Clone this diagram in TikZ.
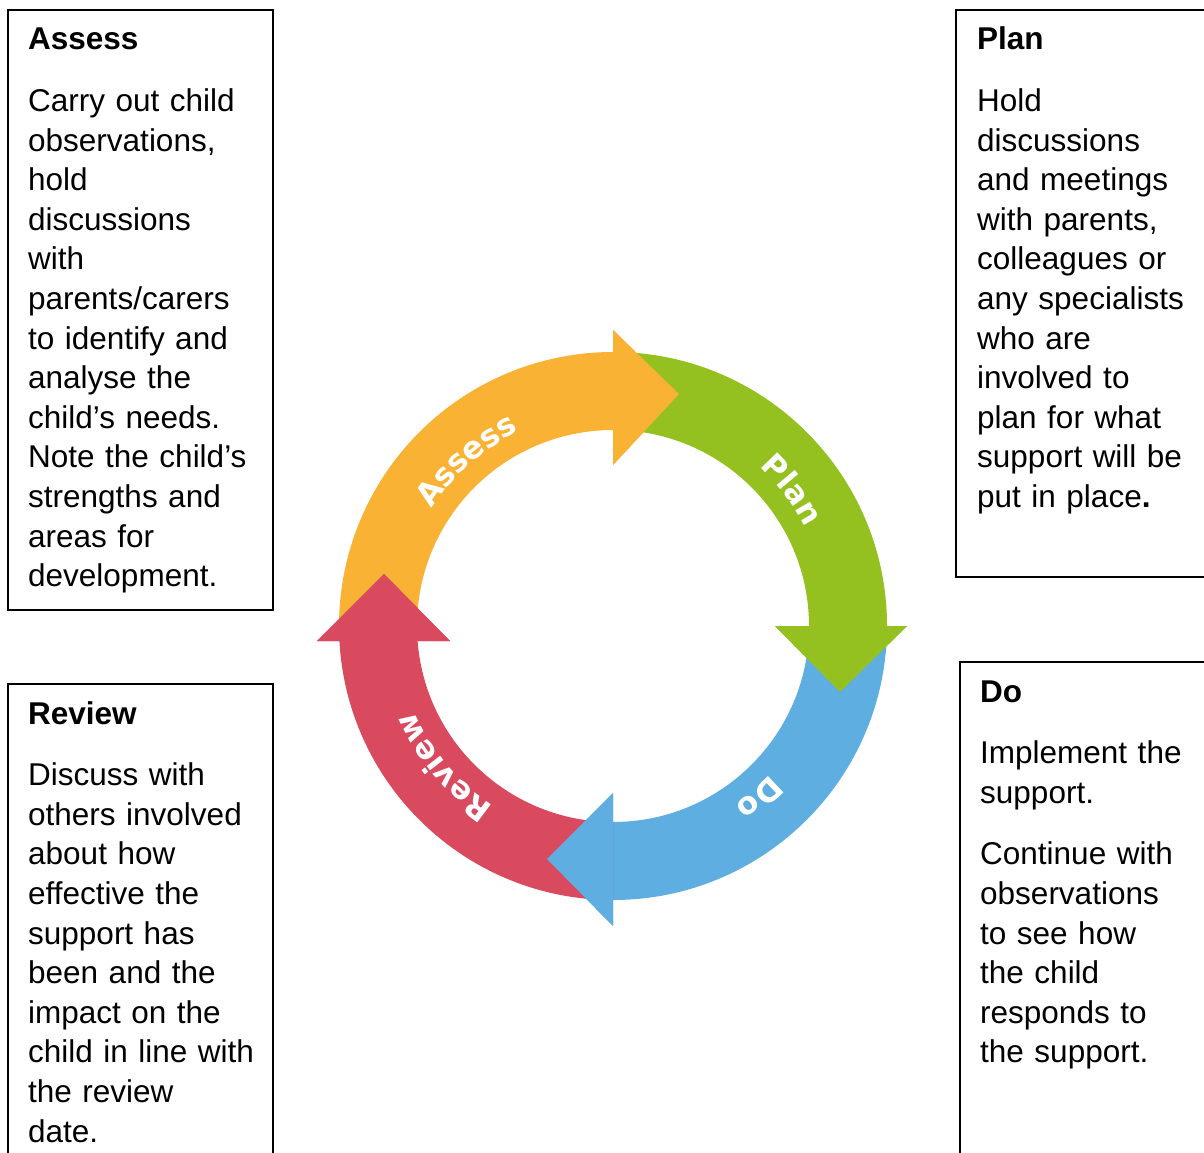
\documentclass[tikz,border=0pt]{standalone}
\usepackage{fontspec}
\setmainfont{Liberation Sans}
\newfontfamily\labelfamily{DejaVu Sans}
\usetikzlibrary{decorations.text}

\definecolor{assessorange}{RGB}{249,178,52}
\definecolor{plangreen}{RGB}{148,193,31}
\definecolor{doblue}{RGB}{94,174,225}
\definecolor{reviewred}{RGB}{217,74,95}

\newcommand\boxfont{\fontsize{31.5}{39.6}\selectfont}
\newcommand\arcfont{\labelfamily\bfseries\fontsize{31}{37}\selectfont}

\begin{document}
\begin{tikzpicture}[x=1pt,y=1pt,
  frame/.style={draw=black, line width=2pt},
  boxtext/.style={anchor=base west, inner sep=0pt, text width=250pt, align=left, font=\boxfont},
  arclabel/.style={decorate, decoration={text along path, text align=center,
      text color=white, text={|\arcfont|#1}}}
]
\useasboundingbox (0,0) rectangle (1204,-1153);
\clip (0,0) rectangle (1204,-1153);
\fill[white] (0,0) rectangle (1204,-1153);

% text boxes (cut off by the page edge at the right and bottom)
\draw[frame] (8,-10) rectangle (273,-610);
\draw[frame] (8,-684) rectangle (273,-1180);
\draw[frame] (956,-10) rectangle (1230,-577);
\draw[frame] (960,-662) rectangle (1230,-1180);

\node[boxtext] (assessText) at (28,-50) {\textbf{Assess}\\[22pt]Carry out child\\observations,\\hold\\discussions\\with\\parents/carers\\to identify and\\analyse the\\child’s needs.\\Note the child’s\\strengths and\\areas for\\development.};

\node[boxtext] (planText) at (977,-50) {\textbf{Plan}\\[22pt]Hold\\discussions\\and meetings\\with parents,\\colleagues or\\any specialists\\who are\\involved to\\plan for what\\support will be\\put in place\textbf{.}};

\node[boxtext] (reviewText) at (28,-724) {\textbf{Review}\\[22pt]Discuss with\\others involved\\about how\\effective the\\support has\\been and the\\impact on the\\child in line with\\the review\\date.};

\node[boxtext] (doText) at (980,-702) {\textbf{Do}\\[22pt]Implement the\\support.\\[22pt]Continue with\\observations\\to see how\\the child\\responds to\\the support.};

% cycle of four arrows
\begin{scope}[shift={(613,-626)}]
  % each arrow: ring segment with its head in one outline
  \fill[assessorange] (183.14:274pt) arc[start angle=183.14, end angle=90, radius=274pt]
     -- (0,296) -- (66,232) -- (0,161) -- (90:196pt)
     arc[start angle=90, end angle=184.39, radius=196pt] -- cycle;
  \fill[plangreen] (90:274pt) arc[start angle=90, end angle=0, radius=274pt]
     -- (294,0) -- (227,-66) -- (162,0) -- (0:196pt)
     arc[start angle=0, end angle=90, radius=196pt] -- cycle;
  \fill[doblue] (0:274pt) arc[start angle=0, end angle=-90, radius=274pt]
     -- (0,-300) -- (-66,-233) -- (0,-167) -- (-90:196pt)
     arc[start angle=-90, end angle=0, radius=196pt] -- cycle;
  \fill[reviewred] (-90:274pt) arc[start angle=-90, end angle=-176.86, radius=274pt]
     -- (-296,-15) -- (-229,52) -- (-163,-15) -- (-175.61:196pt)
     arc[start angle=-175.61, end angle=-90, radius=196pt] -- cycle;
  % heads laid over the tail of the following arrow
  \fill[assessorange] (0,296) -- (66,232) -- (0,161) -- cycle;
  \fill[plangreen] (162,0) -- (294,0) -- (227,-66) -- cycle;
  \fill[doblue] (0,-167) -- (0,-300) -- (-66,-233) -- cycle;
  \fill[reviewred] (-296,-15) -- (-163,-15) -- (-229,52) -- cycle;
  % labels set clockwise along the ring
  \path[arclabel=Assess] (176.5:216pt) arc[start angle=176.5, end angle=86.5, radius=216pt];
  \path[arclabel=Plan] (82.3:216pt) arc[start angle=82.3, end angle=-7.7, radius=216pt];
  \path[arclabel=Do] (-4.6:216pt) arc[start angle=-4.6, end angle=-94.6, radius=216pt];
  \path[arclabel=Review] (-95.2:216pt) arc[start angle=-95.2, end angle=-185.2, radius=216pt];
\end{scope}
\end{tikzpicture}
\end{document}
